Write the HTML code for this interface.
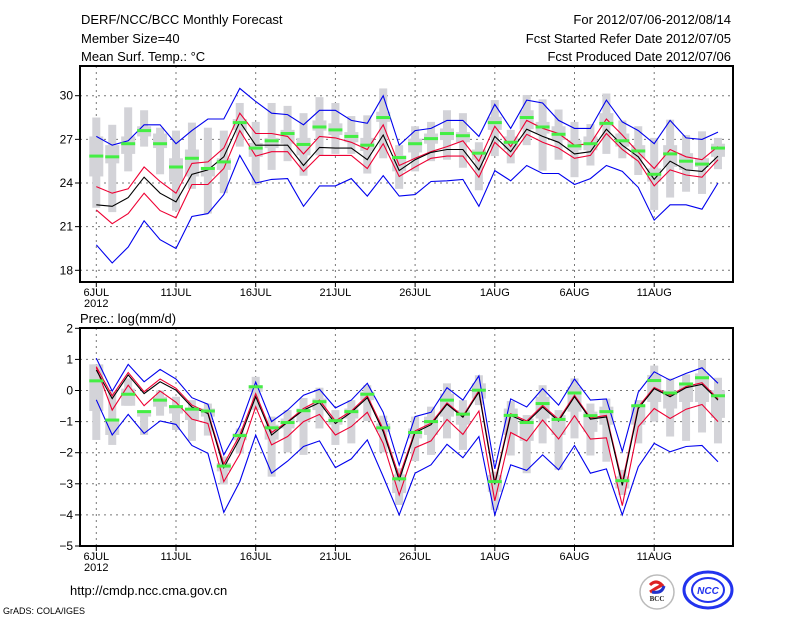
<!DOCTYPE html>
<html><head><meta charset="utf-8"><style>
html,body{margin:0;padding:0;background:#fff;}
svg{display:block;font-family:"Liberation Sans",sans-serif;}
</style></head><body>
<svg id="chart" width="800" height="618" viewBox="0 0 800 618" xmlns="http://www.w3.org/2000/svg">
<g font-size="13" fill="#000">
<text x="81" y="24">DERF/NCC/BCC Monthly Forecast</text>
<text x="81" y="43">Member Size=40</text>
<text x="81" y="61">Mean Surf. Temp.: °C</text>
<text x="731" y="24" text-anchor="end">For 2012/07/06-2012/08/14</text>
<text x="731" y="43" text-anchor="end">Fcst Started Refer Date 2012/07/05</text>
<text x="731" y="61" text-anchor="end">Fcst Produced Date 2012/07/06</text>
<text x="80" y="323">Prec.: log(mm/d)</text>
<text x="70" y="595">http://cmdp.ncc.cma.gov.cn</text>
<text x="3" y="614" font-size="9">GrADS: COLA/IGES</text>
</g>
<g>
<circle cx="657" cy="592" r="17" fill="#fff" stroke="#bbb" stroke-width="1.5"/>
<path d="M650 585 q6 -6 12 0 q-6 3 -12 7" fill="none" stroke="#d22" stroke-width="3"/>
<path d="M664 586 q-2 8 -12 6" fill="none" stroke="#23c" stroke-width="3"/>
<text x="657" y="601" font-size="7" text-anchor="middle" font-family="Liberation Serif,serif" font-weight="bold" fill="#222">BCC</text>
<ellipse cx="708" cy="590" rx="24" ry="18" fill="#fff" stroke="#23e" stroke-width="3"/>
<ellipse cx="708" cy="590" rx="16" ry="12" fill="none" stroke="#23e" stroke-width="2"/>
<text x="708" y="594" font-size="10" font-style="italic" font-weight="bold" text-anchor="middle" fill="#23e">NCC</text>
</g>
<g id="plots"></g>
</svg>
<script>
// ---- temperature data (40 days from 6 Jul) ----
const dayLabels = ["6JUL","11JUL","16JUL","21JUL","26JUL","1AUG","6AUG","11AUG"];
const tempTicks = [18,21,24,27,30];
const precTicks = [-5,-4,-3,-2,-1,0,1,2];
const tBlueHi = [27.2,26.6,26.9,28.0,28.0,26.7,27.6,28.4,28.4,30.5,29.6,28.8,28.7,28.0,29.0,29.0,28.3,28.1,30.0,26.6,27.6,27.75,28.3,28.3,27.2,29.4,27.75,29.7,29.5,28.3,27.75,27.75,29.7,28.2,27.6,26.7,28.3,27.1,27.0,27.5];
const tRedHi = [23.75,23.3,23.6,25.1,24.1,23.3,25.35,25.45,26.4,28.8,27.4,27.4,27.2,26.0,27.2,27.1,26.8,26.3,28.0,25.2,25.7,26.15,26.5,26.9,25.5,27.9,26.5,28.3,27.75,27.4,26.6,26.7,28.4,27.3,26.1,25.0,26.3,25.8,25.6,26.5];
const tMean = [22.5,22.4,23.0,24.4,23.3,22.7,24.6,24.9,25.8,28.2,26.6,26.6,26.6,25.2,26.45,26.4,26.4,25.6,27.3,24.85,25.6,26.1,26.3,26.3,24.9,27.2,26.15,27.7,27.2,26.8,26.0,26.15,27.7,26.6,25.8,24.25,25.5,24.9,24.8,25.85];
const tRedLo = [22.15,21.2,21.9,23.3,22.1,21.6,23.9,23.9,25.0,27.6,25.85,26.15,26.15,24.8,25.9,25.9,25.9,25.0,26.7,24.45,25.1,25.7,25.85,25.85,24.4,26.8,25.8,27.35,26.8,26.4,25.7,25.9,27.4,26.3,25.5,23.8,24.9,24.55,24.4,25.6];
const tBlueLo = [19.75,18.5,19.6,21.4,20.1,19.5,21.7,21.9,23.2,25.9,24.0,24.25,24.3,22.4,23.8,23.8,24.3,23.1,24.5,23.1,23.2,24.1,24.15,24.25,22.4,24.85,24.15,25.2,24.65,24.65,23.9,24.3,25.2,24.8,23.7,21.45,22.5,22.5,22.2,24.0];
const tMedian = [25.85,25.8,26.7,27.6,26.7,25.1,25.7,25.0,25.45,28.15,26.4,26.9,27.4,26.65,27.85,27.65,27.2,26.6,28.5,25.75,26.7,27.05,27.4,27.25,26.05,28.15,26.8,28.5,27.85,27.35,26.55,26.7,28.1,26.9,26.2,24.6,26.0,25.5,25.3,26.4];
const tMax = [28.5,28.0,29.2,29.0,27.8,27.6,28.15,27.8,27.6,29.5,28.2,29.5,29.3,28.8,29.9,29.5,28.6,28.65,30.5,26.6,27.9,28.2,29.0,28.8,26.8,29.7,27.65,30.05,29.75,29.05,28.2,28.05,30.15,28.3,27.9,27.1,28.35,27.3,27.55,27.1];
const tMin = [22.3,22.0,24.8,26.5,24.6,22.1,23.6,21.9,23.3,26.5,23.85,24.9,25.5,24.5,25.9,26.0,26.0,24.65,25.7,23.6,24.8,25.5,25.6,25.05,23.5,25.85,25.35,26.6,24.85,25.6,24.4,25.2,26.0,25.7,24.55,22.15,23.0,23.4,23.25,24.95];
const tQ3 = [27.2,26.6,27.2,27.9,27.4,25.7,26.3,24.9,25.7,28.4,26.75,27.1,27.65,27.1,28.3,28.1,27.5,27.1,28.9,25.9,27.05,27.4,27.75,27.5,26.3,28.55,27.2,29.0,28.2,27.9,26.95,27.2,28.8,27.4,26.6,25.0,26.6,26.05,25.7,26.7];
const tQ1 = [24.45,25.35,26.0,27.2,26.4,24.1,24.45,24.45,24.9,27.65,25.8,26.4,26.7,25.9,27.6,27.3,26.8,26.2,28.2,24.8,26.1,26.7,26.95,26.8,25.6,27.65,26.3,27.7,27.4,26.95,26.25,26.25,27.9,26.5,25.7,24.1,25.1,24.9,25.1,25.8];
// ---- precipitation data ----
const pBlueHi = [1.04,-0.02,0.84,0.28,0.68,0.37,-0.23,-0.44,-2.07,-1.15,0.27,-1.0,-0.63,-0.15,0.04,-0.56,-0.31,0.23,-0.7,-2.4,-0.84,-0.7,0.09,-0.31,0.47,-2.52,-0.27,-0.53,0.06,-0.47,0.37,-0.31,-0.27,-1.96,-0.05,0.6,0.33,0.55,0.73,0.23];
const pRedHi = [0.77,-0.17,0.58,-0.04,0.37,0.07,-0.47,-0.7,-2.37,-1.43,-0.1,-1.35,-1.0,-0.58,-0.31,-0.98,-0.66,-0.17,-1.24,-2.77,-1.3,-1.05,-0.4,-0.82,0.0,-2.95,-0.75,-0.98,-0.48,-0.93,-0.15,-0.88,-0.8,-2.95,-0.52,0.1,-0.15,0.13,0.25,-0.27];
const pMean = [0.66,-0.26,0.5,-0.1,0.28,0.01,-0.53,-0.74,-2.48,-1.54,-0.2,-1.43,-1.02,-0.63,-0.39,-1.06,-0.7,-0.23,-1.32,-2.88,-1.35,-1.1,-0.44,-0.86,-0.05,-3.02,-0.8,-1.03,-0.53,-0.98,-0.2,-0.92,-0.85,-3.05,-0.58,0.06,-0.2,0.09,0.2,-0.31];
const pRedLo = [0.74,-0.63,0.17,-0.49,-0.02,-0.38,-0.92,-1.06,-2.93,-2.05,-0.52,-1.75,-1.48,-1.0,-0.77,-1.43,-1.16,-0.7,-1.7,-3.36,-1.84,-1.62,-0.93,-1.41,-0.66,-3.55,-1.35,-1.62,-0.95,-1.56,-0.81,-1.56,-1.52,-3.7,-1.16,-0.58,-0.9,-0.6,-0.45,-1.0];
const pBlueLo = [-0.3,-1.43,-0.77,-1.38,-0.98,-1.09,-1.77,-2.02,-3.92,-2.93,-1.43,-2.66,-2.27,-1.8,-1.62,-2.48,-2.2,-1.59,-2.77,-4.0,-2.66,-2.39,-1.73,-2.16,-1.48,-4.0,-2.39,-2.57,-2.07,-2.55,-1.77,-2.66,-2.52,-4.0,-2.45,-1.7,-1.97,-1.8,-1.77,-2.29];
const pMedian = [0.31,-0.95,-0.12,-0.68,-0.31,-0.52,-0.6,-0.66,-2.43,-1.45,0.12,-1.2,-1.03,-0.65,-0.36,-0.97,-0.68,-0.12,-1.2,-2.84,-1.35,-1.0,-0.31,-0.76,0.01,-2.93,-0.8,-1.03,-0.42,-0.93,-0.08,-0.81,-0.68,-2.9,-0.49,0.32,-0.08,0.21,0.41,-0.17];
const pMax = [0.84,-0.04,0.39,-0.63,0.0,-0.2,-0.31,-0.42,-2.12,-1.22,0.44,-0.84,-0.63,-0.24,0.09,-0.63,-0.31,0.17,-0.81,-2.5,-0.84,-0.52,0.23,-0.31,0.49,-2.61,-0.34,-0.79,0.17,-0.63,0.39,-0.42,-0.26,-2.55,-0.31,0.8,0.39,0.52,0.98,0.41];
const pMin = [-1.59,-1.75,-0.49,-1.43,-0.81,-1.27,-1.62,-1.45,-3.02,-2.02,-0.63,-2.77,-1.99,-2.07,-1.22,-1.75,-1.7,-0.98,-1.99,-3.68,-2.27,-2.07,-1.54,-1.91,-0.47,-3.84,-2.09,-2.66,-1.7,-2.55,-1.54,-2.09,-2.29,-3.36,-1.7,-1.0,-1.48,-1.62,-1.35,-1.7];
const pQ3 = [0.84,-0.92,0.06,-0.63,-0.2,-0.47,-0.58,-0.58,-2.33,-1.38,0.17,-1.1,-0.9,-0.58,-0.26,-0.85,-0.58,-0.04,-1.06,-2.7,-1.22,-0.84,-0.1,-0.63,0.23,-2.72,-0.58,-0.9,-0.2,-0.79,0.12,-0.68,-0.52,-2.76,-0.47,0.5,0.0,0.17,0.55,0.01];
const pQ1 = [-0.66,-1.43,-0.49,-0.84,-0.52,-0.74,-0.95,-0.84,-2.6,-1.6,-0.04,-1.58,-1.22,-1.0,-0.63,-1.1,-0.9,-0.31,-1.33,-3.3,-1.54,-1.43,-0.84,-1.1,-0.26,-3.26,-1.43,-1.62,-0.9,-1.43,-0.68,-1.33,-1.1,-3.15,-1.1,-0.37,-0.58,-0.37,-0.37,-0.88];

const NS = "http://www.w3.org/2000/svg";
const plots = document.getElementById('plots');
function mk(tag, attrs, parent){ const e=document.createElementNS(NS,tag); for(const k in attrs) e.setAttribute(k,attrs[k]); (parent||plots).appendChild(e); return e; }
const X0=80, X1=733, D0=96.3, DX=15.94;
function xAt(i){ return D0 + i*DX; }

function panel(cfg){
  const g = mk('g',{});
  
  
  const y = v => cfg.yA + (v - cfg.vA) * (cfg.yB - cfg.yA) / (cfg.vB - cfg.vA);
  // grid
  cfg.ticks.forEach(t=>{
    const yy=y(t);
    if (yy>cfg.top+1 && yy<cfg.bot-1) { const l=mk('line',{x1:X0,x2:X1,y1:yy,y2:yy,stroke:'#777','stroke-width':1,'stroke-dasharray':'2,4'},g);   }
    const tk=mk('line',{x1:X0-5,x2:X0,y1:yy,y2:yy,stroke:'#000','stroke-width':1},g);
     
    const tx=mk('text',{x:X0-7,y:yy+4,'text-anchor':'end','font-size':12},g); tx.textContent=String(t).replace('-','\u2212');
     
  });
  dayLabels.forEach((lab,k)=>{
    const xx=xAt(k*5);
    const l=mk('line',{x1:xx,x2:xx,y1:cfg.top,y2:cfg.bot,stroke:'#777','stroke-width':1,'stroke-dasharray':'2,4'},g);
     
    const tk=mk('line',{x1:xx,x2:xx,y1:cfg.bot,y2:cfg.bot+5,stroke:'#000'},g);
     
    const tx=mk('text',{x:xx,y:cfg.bot+14,'text-anchor':'middle','font-size':11},g); tx.textContent=lab;
     
  });
  const yr=mk('text',{x:xAt(0),y:cfg.bot+25,'text-anchor':'middle','font-size':11},g); yr.textContent='2012';
   
  // boxes
  cfg.max.forEach((mx,i)=>{
    const xx=xAt(i);
    const r1=mk('rect',{x:xx-4,y:y(mx),width:8,height:Math.max(1,y(cfg.min[i])-y(mx)),fill:'#d3d3d8'},g);
     
    const r2=mk('rect',{x:xx-7,y:y(cfg.q3[i]),width:14,height:Math.max(1,y(cfg.q1[i])-y(cfg.q3[i])),fill:'#d3d3d8'},g);
     
  });
  const line=(arr,color,name)=>{
    const p=mk('polyline',{points:arr.map((v,i)=>xAt(i).toFixed(1)+','+y(v).toFixed(1)).join(' '),fill:'none',stroke:color,'stroke-width':1.1},g);
     
  };
  line(cfg.bhi,'#0000ee','upper-blue-line');
  line(cfg.blo,'#0000ee','lower-blue-line');
  line(cfg.rhi,'#ee0033','upper-red-line');
  line(cfg.rlo,'#ee0033','lower-red-line');
  line(cfg.mean,'#000','ensemble-mean-line');
  cfg.med.forEach((v,i)=>{
    const r=mk('rect',{x:xAt(i)-7,y:y(v)-1.5,width:14,height:3,fill:'#44ee44'},g);
     
  });
  const f=mk('rect',{x:X0,y:cfg.top,width:X1-X0,height:cfg.bot-cfg.top,fill:'none',stroke:'#000','stroke-width':2},g);
   
}
panel({name:'temperature-panel',top:66,bot:282,yA:95.7,vA:30,yB:270.3,vB:18,ticks:tempTicks,
  bhi:tBlueHi,rhi:tRedHi,mean:tMean,rlo:tRedLo,blo:tBlueLo,med:tMedian,max:tMax,min:tMin,q3:tQ3,q1:tQ1});
panel({name:'precipitation-panel',top:328,bot:546,yA:328.3,vA:2,yB:546,vB:-5,ticks:precTicks,
  bhi:pBlueHi,rhi:pRedHi,mean:pMean,rlo:pRedLo,blo:pBlueLo,med:pMedian,max:pMax,min:pMin,q3:pQ3,q1:pQ1});
</script>
</body></html>
